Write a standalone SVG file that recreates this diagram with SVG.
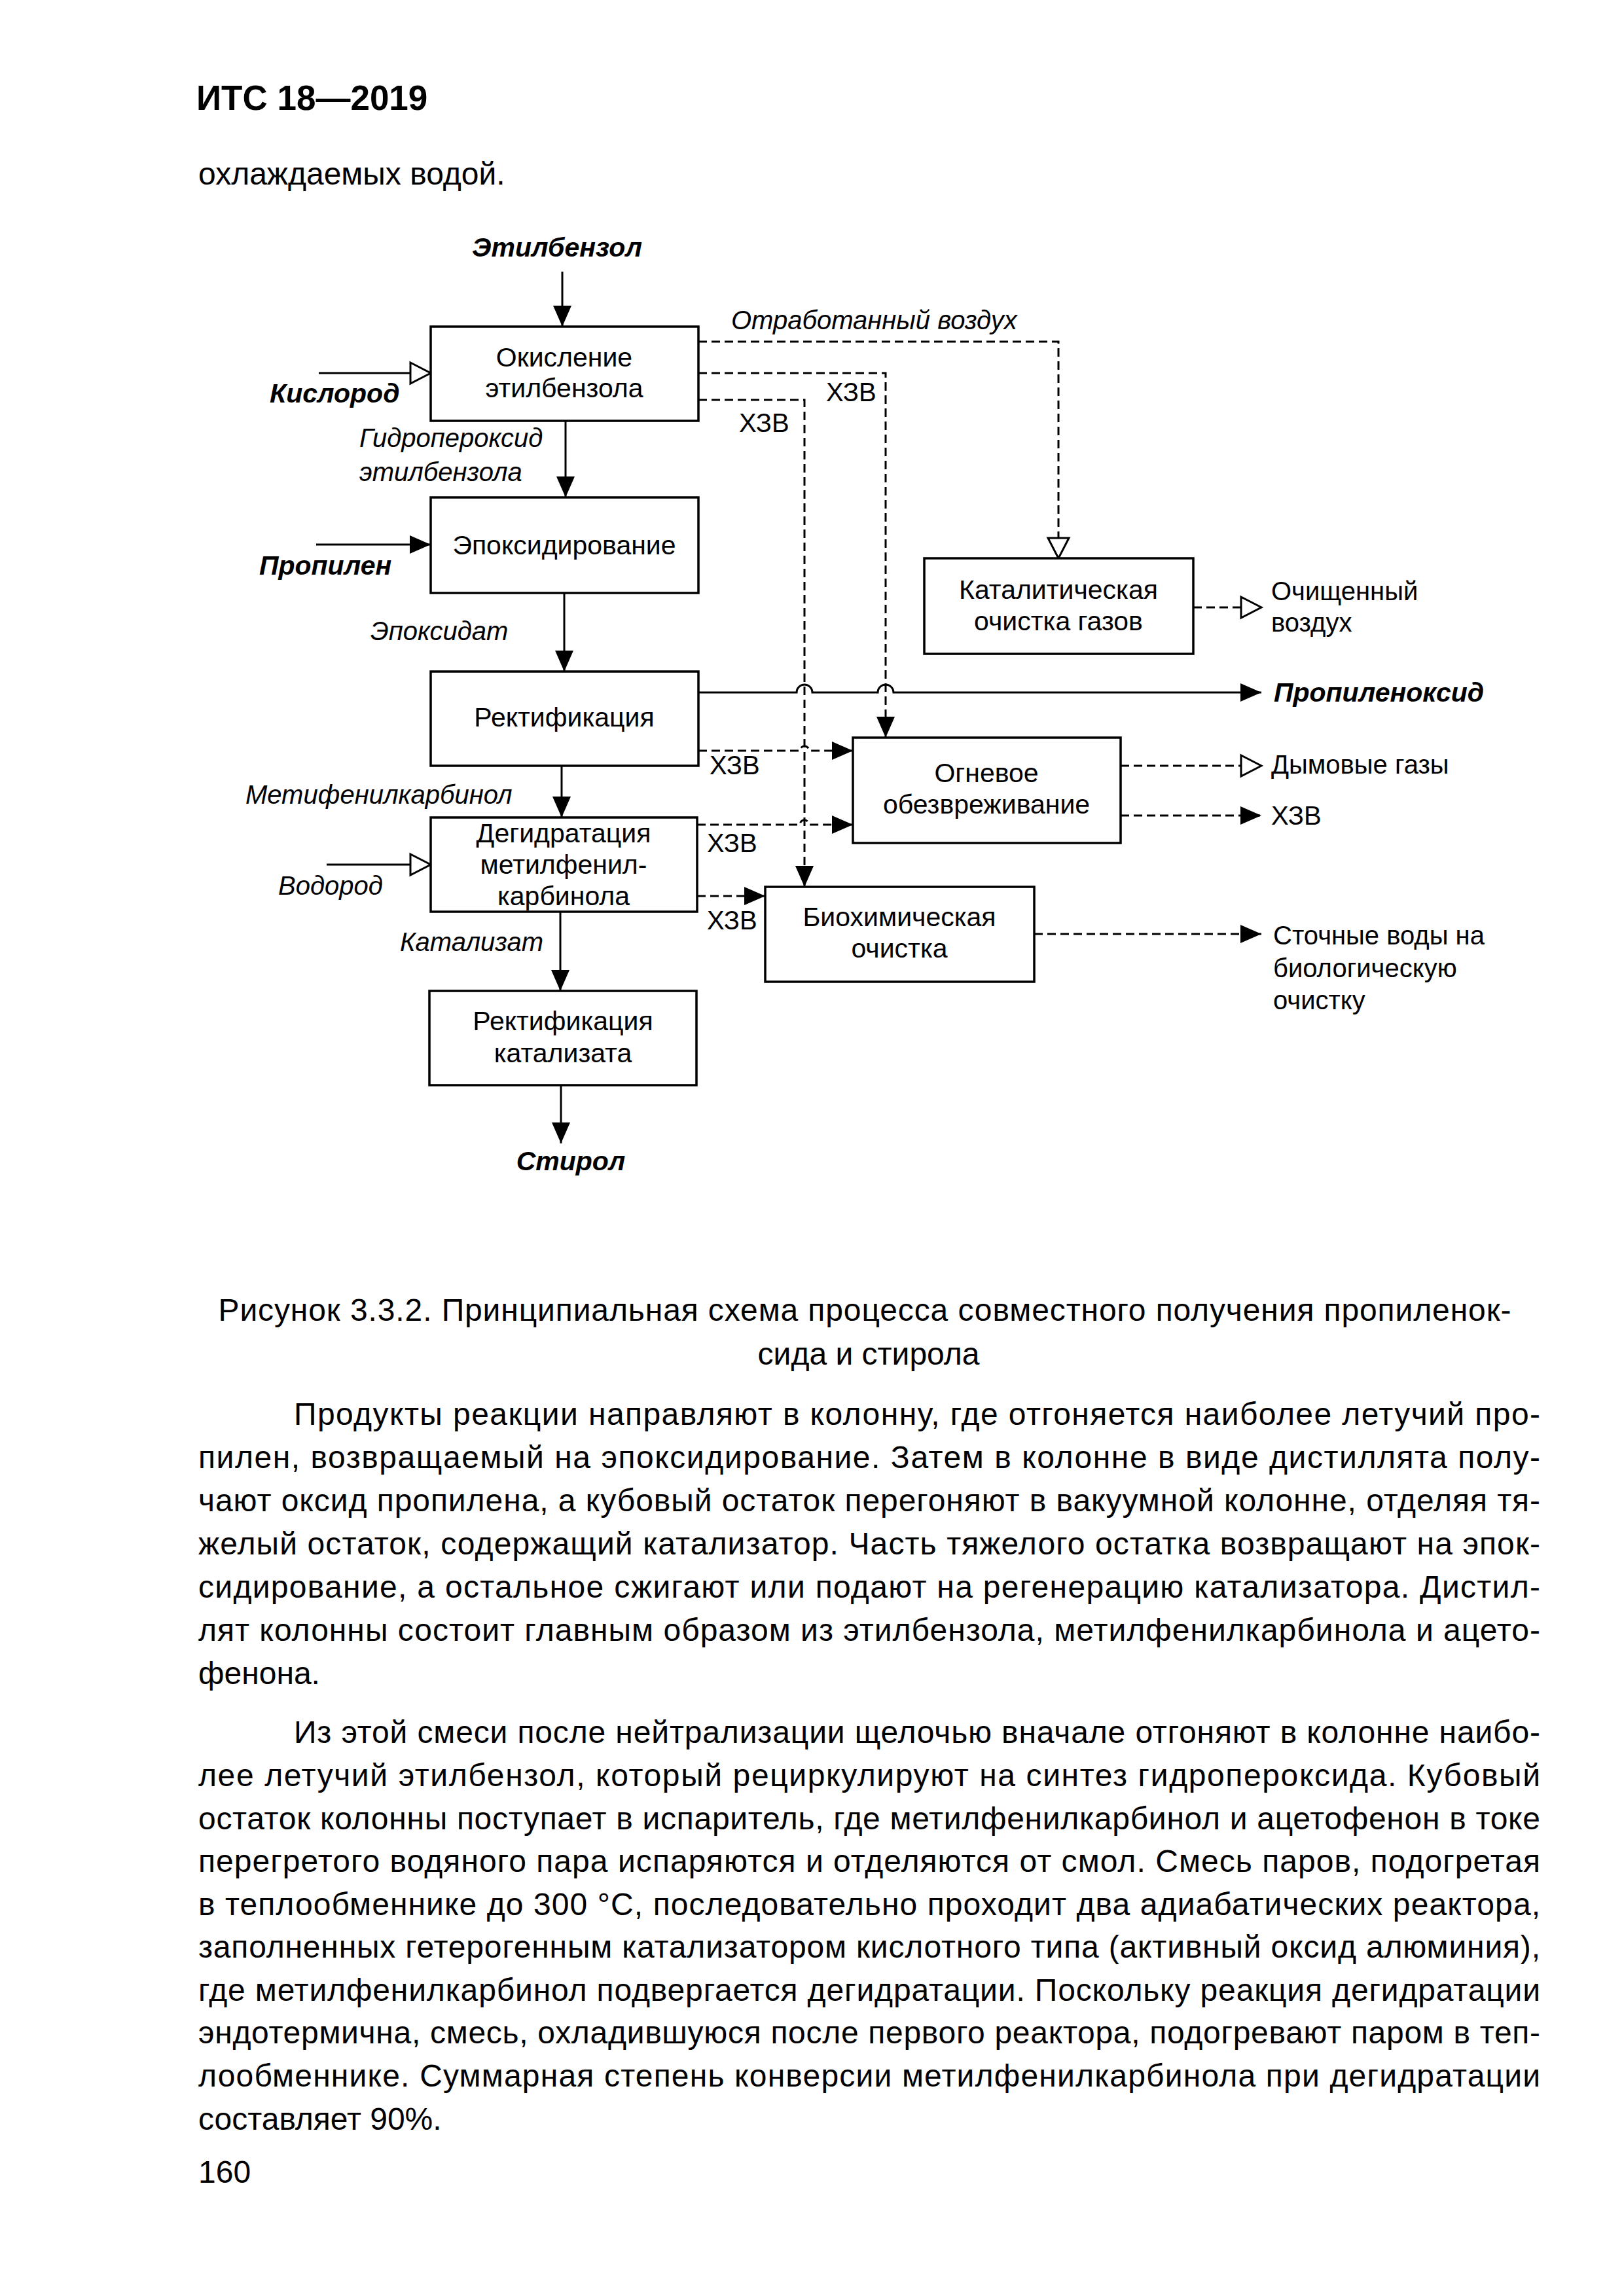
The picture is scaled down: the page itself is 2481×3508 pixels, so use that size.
<svg xmlns="http://www.w3.org/2000/svg" width="2481" height="3508" viewBox="0 0 2481 3508">
<style>
text{font-family:"Liberation Sans",Arial,sans-serif;fill:#000}
.hdr{font-size:53px;font-weight:bold}
.body{font-size:48px}
.nt{font-size:41px;text-anchor:middle}
.lb{font-size:40px;font-style:italic}
.lbb{font-size:41px;font-style:italic;font-weight:bold}
.out{font-size:40px}
.box{fill:#fff;stroke:#000;stroke-width:3.5}
.sl{fill:none;stroke:#000;stroke-width:3}
.dl{fill:none;stroke:#000;stroke-width:3;stroke-dasharray:13 7}
</style>
<defs>
<marker id="af" markerUnits="userSpaceOnUse" viewBox="0 -16 34 32" markerWidth="34" markerHeight="32" refX="32" refY="0" orient="auto" overflow="visible">
<path d="M0,-14 L32,0 L0,14 Z" fill="#000"/>
</marker>
<marker id="ah" markerUnits="userSpaceOnUse" viewBox="-3 -19 38 38" markerWidth="38" markerHeight="38" refX="32" refY="0" orient="auto" overflow="visible">
<path d="M1,-16 L32,0 L1,16 Z" fill="#fff" stroke="#000" stroke-width="3"/>
</marker>
</defs>
<rect width="2481" height="3508" fill="#fff"/>

<text class="hdr" x="300" y="168">ИТС 18—2019</text>
<text class="body" x="303" y="282">охлаждаемых водой.</text>

<g id="connectors">
<path class="sl" d="M859,415 V499" marker-end="url(#af)"/>
<path class="sl" d="M487,570 H658" marker-end="url(#ah)"/>
<path class="sl" d="M864,643 V760" marker-end="url(#af)"/>
<path class="sl" d="M483,832 H658" marker-end="url(#af)"/>
<path class="sl" d="M862,906 V1026" marker-end="url(#af)"/>
<path class="sl" d="M1067,1058 H1217 A12,12 0 0 1 1241,1058 H1341 A12,12 0 0 1 1365,1058 H1927" marker-end="url(#af)"/>
<path class="sl" d="M858,1170 V1249" marker-end="url(#af)"/>
<path class="sl" d="M499,1321 H658" marker-end="url(#ah)"/>
<path class="sl" d="M856,1393 V1514" marker-end="url(#af)"/>
<path class="sl" d="M857,1658 V1747" marker-end="url(#af)"/>

<path class="dl" d="M1067,522 H1617 V853" marker-end="url(#ah)"/>
<path class="dl" d="M1067,570 H1353 V1127" marker-end="url(#af)"/>
<path class="dl" d="M1067,611 H1229 V1355" marker-end="url(#af)"/>
<path class="dl" d="M1823,928 H1927" marker-end="url(#ah)"/>
<path class="dl" d="M1067,1147 H1222 A7,7 0 0 1 1236,1147 H1303" marker-end="url(#af)"/>
<path class="dl" d="M1065,1260 H1222 A7,7 0 0 1 1236,1260 H1303" marker-end="url(#af)"/>
<path class="dl" d="M1065,1369 H1169" marker-end="url(#af)"/>
<path class="dl" d="M1712,1170 H1927" marker-end="url(#ah)"/>
<path class="dl" d="M1712,1246 H1927" marker-end="url(#af)"/>
<path class="dl" d="M1580,1427 H1927" marker-end="url(#af)"/>
</g>

<g id="labels">
<text class="lbb" x="851" y="392" text-anchor="middle">Этилбензол</text>
<text class="lbb" x="412" y="615">Кислород</text>
<text class="lb" x="549" y="683">Гидропероксид</text>
<text class="lb" x="549" y="735">этилбензола</text>
<text class="lbb" x="396" y="878">Пропилен</text>
<text class="lb" x="566" y="978">Эпоксидат</text>
<text class="lb" x="375" y="1228">Метифенилкарбинол</text>
<text class="lb" x="425" y="1367">Водород</text>
<text class="lb" x="611" y="1453">Катализат</text>
<text class="lbb" x="872" y="1788" text-anchor="middle">Стирол</text>
<text class="lb" x="1117" y="503">Отработанный воздух</text>
<text class="out" x="1262" y="613">ХЗВ</text>
<text class="out" x="1129" y="660">ХЗВ</text>
<text class="out" x="1084" y="1183">ХЗВ</text>
<text class="out" x="1080" y="1302">ХЗВ</text>
<text class="out" x="1080" y="1420">ХЗВ</text>
<text class="lbb" x="1946" y="1072">Пропиленоксид</text>
<text class="out" x="1942" y="917">Очищенный</text>
<text class="out" x="1942" y="965">воздух</text>
<text class="out" x="1942" y="1182">Дымовые газы</text>
<text class="out" x="1942" y="1260">ХЗВ</text>
<text class="out" x="1945" y="1443">Сточные воды на</text>
<text class="out" x="1945" y="1493">биологическую</text>
<text class="out" x="1945" y="1542">очистку</text>
</g>

<g id="n1"><rect class="box" x="658" y="499" width="409" height="144"/>
<text class="nt" x="862" y="560">Окисление</text><text class="nt" x="862" y="607">этилбензола</text></g>
<g id="n2"><rect class="box" x="658" y="760" width="409" height="146"/>
<text class="nt" x="862" y="847">Эпоксидирование</text></g>
<g id="n3"><rect class="box" x="658" y="1026" width="409" height="144"/>
<text class="nt" x="862" y="1110">Ректификация</text></g>
<g id="n4"><rect class="box" x="658" y="1249" width="407" height="144"/>
<text class="nt" x="861" y="1287">Дегидратация</text><text class="nt" x="861" y="1335">метилфенил-</text><text class="nt" x="861" y="1383">карбинола</text></g>
<g id="n5"><rect class="box" x="656" y="1514" width="408" height="144"/>
<text class="nt" x="860" y="1574">Ректификация</text><text class="nt" x="860" y="1623">катализата</text></g>
<g id="n6"><rect class="box" x="1412" y="853" width="411" height="146"/>
<text class="nt" x="1617" y="915">Каталитическая</text><text class="nt" x="1617" y="963">очистка газов</text></g>
<g id="n7"><rect class="box" x="1303" y="1127" width="409" height="161"/>
<text class="nt" x="1507" y="1195">Огневое</text><text class="nt" x="1507" y="1243">обезвреживание</text></g>
<g id="n8"><rect class="box" x="1169" y="1355" width="411" height="145"/>
<text class="nt" x="1374" y="1415">Биохимическая</text><text class="nt" x="1374" y="1463">очистка</text></g>

<g id="caption">
<text class="body" x="1321" y="2018" text-anchor="middle" textLength="1975" lengthAdjust="spacing">Рисунок 3.3.2. Принципиальная схема процесса совместного получения пропиленок-</text>
<text class="body" x="1327" y="2085" text-anchor="middle">сида и стирола</text>
</g>

<g id="text">
<text class="body" x="449" y="2177" textLength="1904" lengthAdjust="spacing">Продукты реакции направляют в колонну, где отгоняется наиболее летучий про-</text>
<text class="body" x="303" y="2243" textLength="2050" lengthAdjust="spacing">пилен, возвращаемый на эпоксидирование. Затем в колонне в виде дистиллята полу-</text>
<text class="body" x="303" y="2309" textLength="2050" lengthAdjust="spacing">чают оксид пропилена, а кубовый остаток перегоняют в вакуумной колонне, отделяя тя-</text>
<text class="body" x="303" y="2375" textLength="2050" lengthAdjust="spacing">желый остаток, содержащий катализатор. Часть тяжелого остатка возвращают на эпок-</text>
<text class="body" x="303" y="2441" textLength="2050" lengthAdjust="spacing">сидирование, а остальное сжигают или подают на регенерацию катализатора. Дистил-</text>
<text class="body" x="303" y="2507" textLength="2050" lengthAdjust="spacing">лят колонны состоит главным образом из этилбензола, метилфенилкарбинола и ацето-</text>
<text class="body" x="303" y="2573">фенона.</text>
<text class="body" x="449" y="2663" textLength="1904" lengthAdjust="spacing">Из этой смеси после нейтрализации щелочью вначале отгоняют в колонне наибо-</text>
<text class="body" x="303" y="2729" textLength="2050" lengthAdjust="spacing">лее летучий этилбензол, который рециркулируют на синтез гидропероксида. Кубовый</text>
<text class="body" x="303" y="2795" textLength="2050" lengthAdjust="spacing">остаток колонны поступает в испаритель, где метилфенилкарбинол и ацетофенон в токе</text>
<text class="body" x="303" y="2860" textLength="2050" lengthAdjust="spacing">перегретого водяного пара испаряются и отделяются от смол. Смесь паров, подогретая</text>
<text class="body" x="303" y="2926" textLength="2050" lengthAdjust="spacing">в теплообменнике до 300 °С, последовательно проходит два адиабатических реактора,</text>
<text class="body" x="303" y="2991" textLength="2050" lengthAdjust="spacing">заполненных гетерогенным катализатором кислотного типа (активный оксид алюминия),</text>
<text class="body" x="303" y="3057" textLength="2050" lengthAdjust="spacing">где метилфенилкарбинол подвергается дегидратации. Поскольку реакция дегидратации</text>
<text class="body" x="303" y="3122" textLength="2050" lengthAdjust="spacing">эндотермична, смесь, охладившуюся после первого реактора, подогревают паром в теп-</text>
<text class="body" x="303" y="3188" textLength="2050" lengthAdjust="spacing">лообменнике. Суммарная степень конверсии метилфенилкарбинола при дегидратации</text>
<text class="body" x="303" y="3254">составляет 90%.</text>
<text class="body" x="303" y="3335">160</text>
</g>
</svg>
